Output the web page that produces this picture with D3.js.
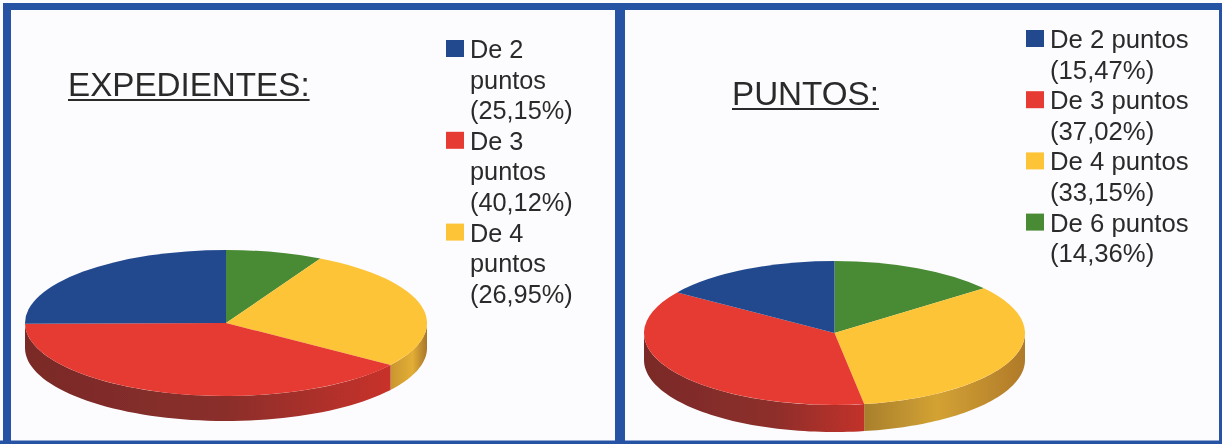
<!DOCTYPE html>
<html><head><meta charset="utf-8">
<script src="https://cdn.jsdelivr.net/npm/d3@7/dist/d3.min.js"></script>
<style>html,body{margin:0;padding:0;background:#fff}svg{display:block}text{font-family:"Liberation Sans",Arial,sans-serif;fill:#2a2a2a}</style>
</head><body><svg id="c" width="1222" height="444"></svg>
<script>
const leftCategories = ["Otros","De 4 puntos","De 3 puntos","De 2 puntos"];
const leftValues = [7.78,26.95,40.12,25.15];
const leftColors = ["#4a8a34","#fdc437","#e63a30","#224a8e"];
const leftLegend = [["De 2","puntos","(25,15%)"],["De 3","puntos","(40,12%)"],["De 4","puntos","(26,95%)"]];
const leftLegendColors = ["#224a8e","#e63a30","#fdc437"];
const rightCategories = ["De 6 puntos","De 4 puntos","De 3 puntos","De 2 puntos"];
const rightValues = [14.36,33.15,37.02,15.47];
const rightColors = ["#4a8a34","#fdc437","#e63a30","#224a8e"];
const rightLegend = [["De 2 puntos","(15,47%)"],["De 3 puntos","(37,02%)"],["De 4 puntos","(33,15%)"],["De 6 puntos","(14,36%)"]];
const rightLegendColors = ["#224a8e","#e63a30","#fdc437","#4a8a34"];

const svg = d3.select("#c");
const defs = svg.append("defs");
defs.append("filter").attr("id","soft").append("feGaussianBlur").attr("stdDeviation",0.55);
const root = svg.append("g").attr("filter","url(#soft)");
root.append("rect").attr("width",1222).attr("height",444).attr("fill","#fcfcfe");

function wallGrad(id, stops){
  const g = defs.append("linearGradient").attr("id",id);
  stops.forEach(s=>g.append("stop").attr("offset",s[0]).attr("stop-color",s[1]));
  return `url(#${id})`;
}
function pie3d(cfg){
  const {cx,cy,rx,ry,depth,values,colors,walls} = cfg;
  const arcs = d3.pie().sort(null).value(d=>d)(values);
  const g = root.append("g").attr("transform",`translate(${cx},${cy})`);
  const X = a=>rx*Math.sin(a), Y = a=>-ry*Math.cos(a);
  arcs.forEach((d,i)=>{
    const a0=Math.max(d.startAngle,Math.PI/2), a1=Math.min(d.endAngle,3*Math.PI/2);
    if(a1<=a0) return;
    const p=d3.path();
    p.moveTo(X(a0),Y(a0));
    const steps=d3.range(0,61).map(k=>a0+(a1-a0)*k/60);
    steps.forEach(a=>p.lineTo(X(a),Y(a)));
    steps.reverse().forEach(a=>p.lineTo(X(a),Y(a)+depth));
    p.closePath();
    g.append("path").attr("d",p.toString()).attr("fill",walls[i]||colors[i]);
  });
  const arc=d3.arc().innerRadius(0).outerRadius(rx);
  const top=g.append("g").attr("transform",`scale(1,${ry/rx})`);
  top.selectAll("path").data(arcs).join("path").attr("d",arc).attr("fill",(d,i)=>colors[i]);
}
function legend(items,colors,x,y0,lh,sq,fs){
  items.forEach((lines,i)=>{
    const y=y0+items.slice(0,i).flat().length*lh;
    root.append("rect").attr("x",x).attr("y",y-8).attr("width",sq).attr("height",sq-1).attr("fill",colors[i]);
    lines.forEach((t,k)=>root.append("text").attr("x",x+24).attr("y",y+k*lh+10).attr("font-size",fs).text(t));
  });
}
function title(t,x,y,size){
  const e=root.append("text").attr("x",x).attr("y",y).attr("font-size",size).text(t);
  const w=e.node().getComputedTextLength();
  root.append("rect").attr("x",x).attr("y",y+3).attr("width",w).attr("height",2).attr("fill","#2a2a2a");
}

// frame
const frame="#2853a3";
root.append("rect").attr("x",3).attr("y",3).attr("width",1219).attr("height",7).attr("fill",frame);
root.append("rect").attr("x",0).attr("y",440.5).attr("width",1222).attr("height",3.5).attr("fill",frame);
root.append("rect").attr("x",3).attr("y",3).attr("width",8).attr("height",441).attr("fill",frame);
root.append("rect").attr("x",1219).attr("y",3).attr("width",3).attr("height",441).attr("fill",frame);
root.append("rect").attr("x",615).attr("y",3).attr("width",10).attr("height",441).attr("fill",frame);

pie3d({cx:226,cy:323,rx:201,ry:73,depth:25,values:leftValues,colors:leftColors,
  walls:[null,wallGrad("ly",[[0,"#c9962e"],[.6,"#e3ae35"],[1,"#a9762a"]]),
         wallGrad("lr",[[0,"#7a2a28"],[.55,"#8a2f2a"],[1,"#c8302a"]]),null]});
pie3d({cx:834.5,cy:333,rx:190.5,ry:72,depth:27,values:rightValues,colors:rightColors,
  walls:[null,wallGrad("ry",[[0,"#a87f2c"],[.45,"#d3a233"],[1,"#b07a2a"]]),
         wallGrad("rr",[[0,"#7a2a28"],[.6,"#8e2f2b"],[1,"#c2302a"]]),null]});

title("EXPEDIENTES:",68,96,33.2);
title("PUNTOS:",732,105,33.2);
legend(leftLegend,leftLegendColors,446,48,30.6,18,25.3);
legend(rightLegend,rightLegendColors,1026,38,30.6,18,25.7);
</script></body></html>
